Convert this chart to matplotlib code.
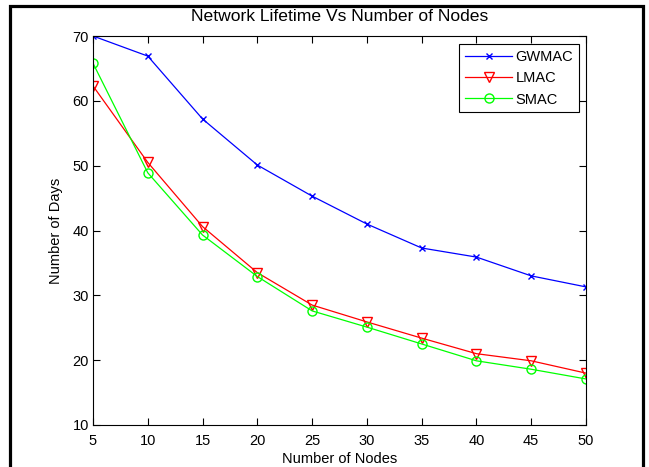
import matplotlib

matplotlib.use('Agg')
import matplotlib.pyplot as plt
from matplotlib.patches import Rectangle

# 数据
nodes = [5, 10, 15, 20, 25, 30, 35, 40, 45, 50]
gwmac = [70, 66.9, 57.2, 50.1, 45.3, 41.0, 37.3, 35.9, 33.0, 31.3]
lmac = [62.3, 50.5, 40.6, 33.5, 28.5, 25.9, 23.4, 21.0, 19.9, 18.0]
smac = [65.8, 48.9, 39.3, 32.9, 27.6, 25.1, 22.5, 19.9, 18.6, 17.1]
xticks = [5, 10, 15, 20, 25, 30, 35, 40, 45, 50]
yticks = [10, 20, 30, 40, 50, 60, 70]

plt.rcParams['font.family'] = ['Liberation Sans', 'DejaVu Sans']
plt.rcParams['font.size'] = 10.5

fig = plt.figure(figsize=(6.49, 4.67), dpi=100)
ax = fig.add_axes([93 / 649, 1 - 425 / 467, 493 / 649, 389 / 467])

ax.plot(nodes, gwmac, color='#0000ff', marker='x', markersize=5, linewidth=0.9, label='GWMAC')
ax.plot(nodes, lmac, color='#ff0000', marker='v', markersize=7, markerfacecolor='none',
        linewidth=0.9, label='LMAC')
ax.plot(nodes, smac, color='#00ff00', marker='o', markersize=6.5, markerfacecolor='none',
        linewidth=0.9, label='SMAC')

ax.set_xlim(5, 50)
ax.set_ylim(10, 70)
ax.set_xticks(xticks)
ax.set_yticks(yticks)
ax.tick_params(direction='in', length=5, width=0.8, top=True, right=True, pad=3)
ax.tick_params(axis='x', pad=6.5)
for s in ax.spines.values():
    s.set_linewidth(0.8)

ax.set_title('Network Lifetime Vs Number of Nodes', pad=10.5)
ax.set_xlabel('Number of Nodes', labelpad=3)
ax.set_ylabel('Number of Days', labelpad=7)

leg = ax.legend(loc='upper right', bbox_to_anchor=(0.986, 0.979), fancybox=False,
                edgecolor='black', framealpha=1, borderpad=0.4, handlelength=3.2,
                handletextpad=0.25, labelspacing=0.5, borderaxespad=0)
leg.get_frame().set_linewidth(0.8)

# 外框 (下边被裁掉)
fig.patches.append(Rectangle((9.5 / 649, -0.05), 633.5 / 649, 1 - 5.5 / 467 + 0.05,
                             transform=fig.transFigure, fill=False, edgecolor='black',
                             linewidth=2.3, clip_on=False))

plt.savefig('out.png', dpi=100)
